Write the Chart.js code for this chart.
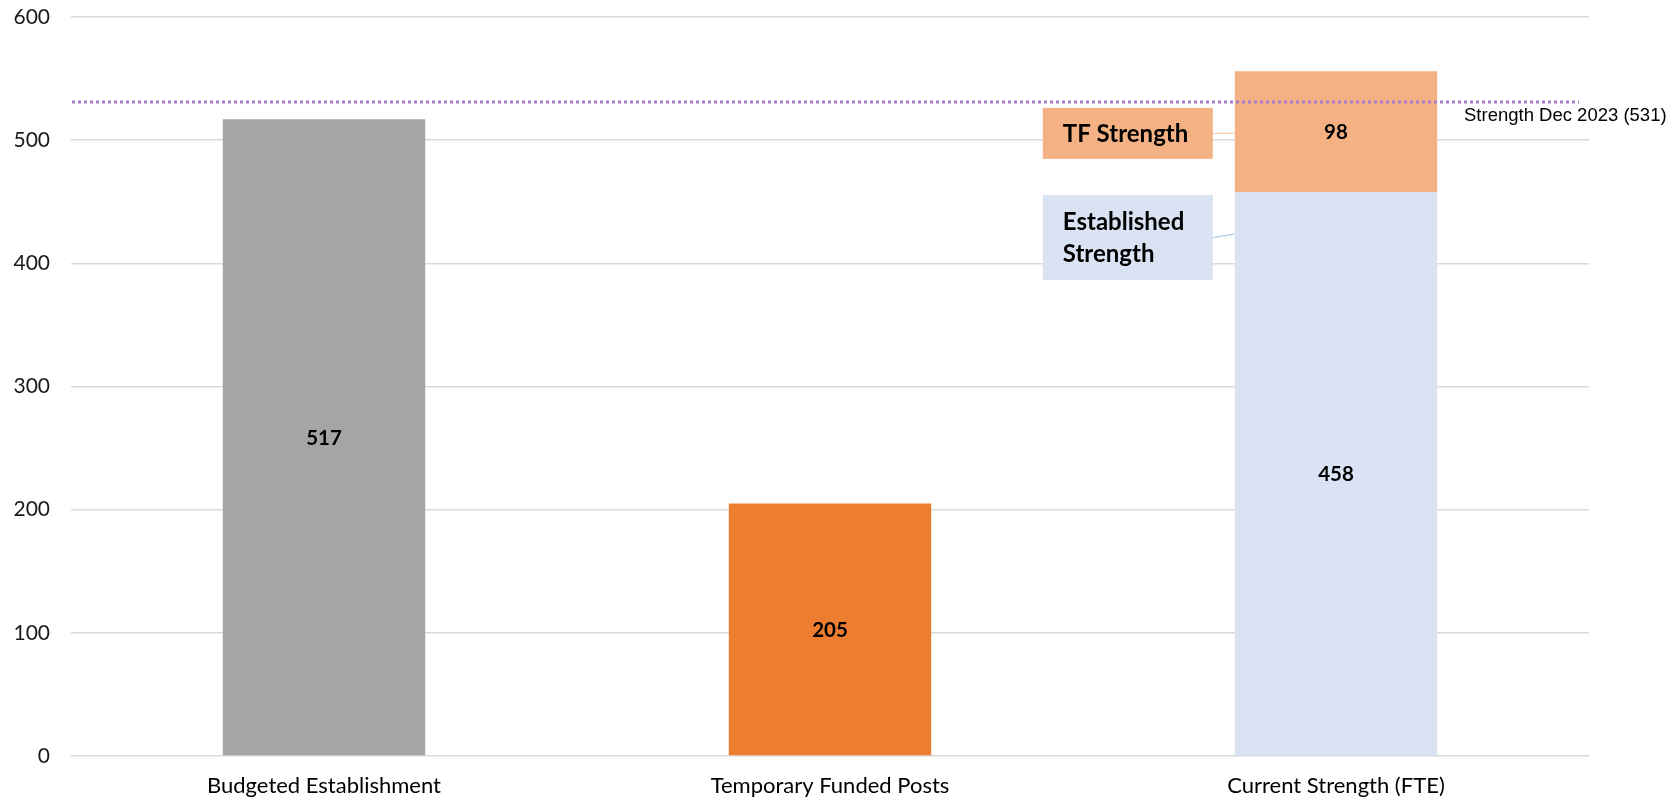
<!DOCTYPE html>
<html>
<head>
<meta charset="utf-8">
<script src="https://cdn.jsdelivr.net/npm/chart.js@4"></script>
<style>
  html, body { margin: 0; padding: 0; background: #fff; }
  #wrap { width: 1668px; height: 799px; }
</style>
</head>
<body>
<div id="wrap"><canvas id="c" width="1668" height="799"></canvas></div>
<script>
// Categories and series values
const categories = ['Budgeted Establishment', 'Temporary Funded Posts', 'Current Strength (FTE)'];
const budgetedEstablishment = [517, null, null];
const temporaryFundedPosts = [null, 205, null];
const establishedStrength = [null, null, 458];
const tfStrength = [null, null, 98];
const yTickValues = [0, 100, 200, 300, 400, 500, 600];

// Reference level
const strengthDec2023 = 531;
const strengthDec2023Label = 'Strength Dec 2023 (' + strengthDec2023 + ')';

// Callout labels for the stacked bar segments
const calloutTF = { lines: ['TF Strength'], anchorValue: 505.5, height: 51 };
const calloutEst = { lines: ['Established', 'Strength'], anchorValue: 421, height: 85 };

const FONT = 'Lato, "Open Sans", sans-serif';

const overlays = {
  id: 'overlays',
  afterDatasetsDraw(chart) {
    const ctx = chart.ctx;
    const y = chart.scales.y;
    const area = chart.chartArea;

    // value labels in the middle of each bar segment
    ctx.save();
    ctx.font = 'bold 20.5px ' + FONT;
    ctx.fillStyle = '#000';
    ctx.textAlign = 'center';
    ctx.textBaseline = 'middle';
    chart.data.datasets.forEach((ds, di) => {
      const meta = chart.getDatasetMeta(di);
      meta.data.forEach((el, i) => {
        const v = ds.data[i];
        if (v === null || v === undefined) return;
        ctx.fillText(String(v), el.x, (el.y + el.base) / 2 + 1);
      });
    });
    ctx.restore();

    // callout boxes beside the current strength bar
    const bar = chart.getDatasetMeta(2).data[2];
    const barLeft = bar.x - bar.width / 2;
    const boxRight = barLeft - 22;
    const boxWidth = 170;
    const boxLeft = boxRight - boxWidth;

    function callout(c, fill, lineColor, yEndOffset) {
      const cy = y.getPixelForValue(c.anchorValue);
      const top = cy - c.height / 2;
      ctx.save();
      ctx.strokeStyle = lineColor;
      ctx.lineWidth = 1.2;
      ctx.beginPath();
      ctx.moveTo(boxRight, cy);
      ctx.lineTo(barLeft, cy + yEndOffset);
      ctx.stroke();
      ctx.fillStyle = fill;
      ctx.fillRect(boxLeft, top, boxWidth, c.height);
      ctx.fillStyle = '#000';
      ctx.font = 'bold 24px ' + FONT;
      ctx.textAlign = 'left';
      ctx.textBaseline = 'middle';
      const lh = 32;
      const startY = cy - (c.lines.length - 1) * lh / 2;
      c.lines.forEach((t, k) => ctx.fillText(t, boxLeft + 20, startY + k * lh + 1));
      ctx.restore();
    }
    callout(calloutTF, '#F4B183', '#F8CBAD', 0);
    callout(calloutEst, '#DAE3F3', '#9DC3E6', -3.5);

    // dotted reference line
    const ly = y.getPixelForValue(strengthDec2023);
    ctx.save();
    ctx.strokeStyle = '#A97BCB';
    ctx.lineWidth = 3;
    ctx.setLineDash([3, 3]);
    ctx.beginPath();
    ctx.moveTo(area.left + 1, ly);
    ctx.lineTo(area.right - 10, ly);
    ctx.stroke();
    ctx.setLineDash([]);
    ctx.fillStyle = '#000';
    ctx.font = '18.5px "Liberation Sans", Arial, sans-serif';
    ctx.textAlign = 'left';
    ctx.textBaseline = 'alphabetic';
    ctx.fillText(strengthDec2023Label, area.right - 125, ly + 19);
    ctx.restore();
  }
};

new Chart(document.getElementById('c'), {
  type: 'bar',
  data: {
    labels: categories,
    datasets: [
      { label: 'Budgeted Establishment', data: budgetedEstablishment, backgroundColor: '#A5A5A5' },
      { label: 'Temporary Funded Posts', data: temporaryFundedPosts, backgroundColor: '#ED7D31' },
      { label: 'Established Strength', data: establishedStrength, backgroundColor: '#DAE3F3' },
      { label: 'TF Strength', data: tfStrength, backgroundColor: '#F4B183' }
    ]
  },
  options: {
    responsive: false,
    animation: false,
    categoryPercentage: 1,
    barPercentage: 0.4,
    layout: { padding: { top: 17, right: 79, left: 0, bottom: 0 } },
    plugins: { legend: { display: false }, tooltip: { enabled: false } },
    scales: {
      x: {
        stacked: true,
        grid: { display: false, drawTicks: false },
        border: { display: false },
        ticks: { color: '#000', font: { family: FONT, size: 22 }, padding: 17, maxRotation: 0 },
        afterFit(s) { s.height = 43; s.paddingLeft = 0; s.paddingRight = 0; }
      },
      y: {
        stacked: true,
        min: 0,
        max: 600,
        afterBuildTicks(s) { s.ticks = yTickValues.map(v => ({ value: v })); },
        grid: { color: '#D9D9D9', lineWidth: 1.5, drawTicks: false },
        border: { display: false },
        ticks: { color: '#1a1a1a', font: { family: FONT, size: 21 }, padding: 21 },
        afterFit(s) { s.width = 71; s.paddingTop = 0; s.paddingBottom = 0; }
      }
    }
  },
  plugins: [overlays]
});
</script>
</body>
</html>
